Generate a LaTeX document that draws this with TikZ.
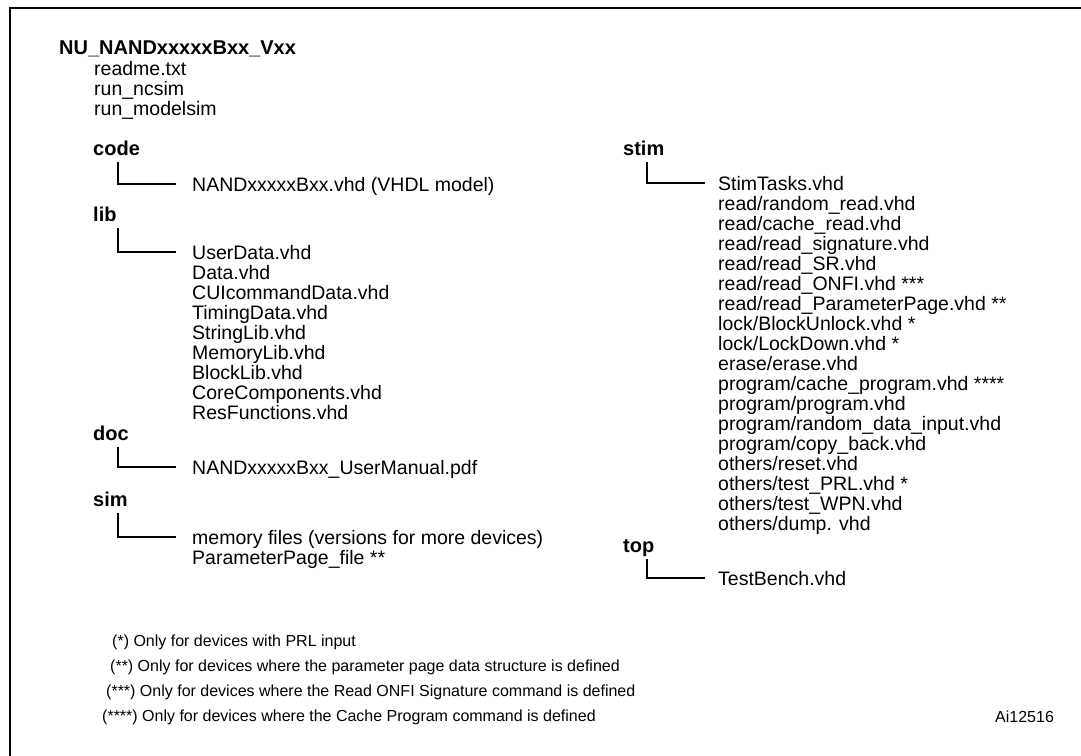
\documentclass[tikz,border=0pt]{standalone}
\usepackage{fontspec}
\setmainfont{Liberation Sans}
\usetikzlibrary{calc}
\begin{document}
\begin{tikzpicture}[x=1pt,y=-1pt,
  lbl/.style={font=\fontsize{20}{20}\selectfont\bfseries, anchor=base west, inner sep=0pt},
  itm/.style={font=\fontsize{19.5}{20}\selectfont, anchor=base west, inner sep=0pt},
  note/.style={font=\fontsize{16}{16}\selectfont, anchor=base west, inner sep=0pt},
  tree/.style={line width=1.3pt},
  frame/.style={line width=2.5pt}]
\useasboundingbox (0,0) rectangle (1081,755);
\fill[white] (0,0) rectangle (1081,755);
\draw[frame] (10,765) -- (10,8) -- (1095,8);

% root
\node[lbl] (root) at (59,54) {NU\_NANDxxxxxBxx\_Vxx};
\node[itm] (readme) at (94,75) {readme.txt};
\node[itm] (ncsim) at (94,95) {run\_ncsim};
\node[itm] (modelsim) at (94,115) {run\_modelsim};

% code
\node[lbl] (code) at (93,155) {code};
\node[itm] (codefile) at (192,191) {NANDxxxxxBxx.vhd (VHDL model)};
\draw[tree] ($(code.base west)+(25,7)$) |- ($(codefile.base west)+(-16,-7)$);

% lib
\node[lbl] (lib) at (93,221) {lib};
\foreach \t [count=\i from 0] in {UserData.vhd, Data.vhd, CUIcommandData.vhd, TimingData.vhd, StringLib.vhd, MemoryLib.vhd, BlockLib.vhd, CoreComponents.vhd, ResFunctions.vhd}
  \node[itm] (lib\i) at (192,{259+20*\i}) {\t};
\draw[tree] ($(lib.base west)+(25,7)$) |- ($(lib0.base west)+(-16,-7)$);

% doc
\node[lbl] (doc) at (93,440) {doc};
\node[itm] (docfile) at (192,474) {NANDxxxxxBxx\_UserManual.pdf};
\draw[tree] ($(doc.base west)+(25,7)$) |- ($(docfile.base west)+(-16,-7)$);

% sim
\node[lbl] (sim) at (93,506) {sim};
\node[itm] (sim0) at (192,544) {memory files (versions for more devices)};
\node[itm] (sim1) at (192,564) {ParameterPage\_file **};
\draw[tree] ($(sim.base west)+(25,7)$) |- ($(sim0.base west)+(-16,-7)$);

% stim
\node[lbl] (stim) at (623,155) {stim};
\foreach \t [count=\i from 0] in {StimTasks.vhd, read/random\_read.vhd, read/cache\_read.vhd, read/read\_signature.vhd, read/read\_SR.vhd, read/read\_ONFI.vhd ***, read/read\_ParameterPage.vhd **, lock/BlockUnlock.vhd *, lock/LockDown.vhd *, erase/erase.vhd, program/cache\_program.vhd ****, program/program.vhd, program/random\_data\_input.vhd, program/copy\_back.vhd, others/reset.vhd, others/test\_PRL.vhd *, others/test\_WPN.vhd, others/dump. vhd}
  \node[itm] (stim\i) at (718,{190+20*\i}) {\t};
\draw[tree] ($(stim.base west)+(24,7)$) |- ($(stim0.base west)+(-13,-7)$);

% top
\node[lbl] (top) at (623,552) {top};
\node[itm] (topfile) at (718,585) {TestBench.vhd};
\draw[tree] ($(top.base west)+(24,7)$) |- ($(topfile.base west)+(-13,-7)$);

% notes
\node[note] (n1) at (112,646) {(*) Only for devices with PRL input};
\node[note] (n2) at (110,671) {(**) Only for devices where the parameter page data structure is defined};
\node[note] (n3) at (106,696) {(***) Only for devices where the Read ONFI Signature command is defined};
\node[note] (n4) at (102,721) {(****) Only for devices where the Cache Program command is defined};
\node[note] (ai) at (995,722) {Ai12516};
\end{tikzpicture}
\end{document}
